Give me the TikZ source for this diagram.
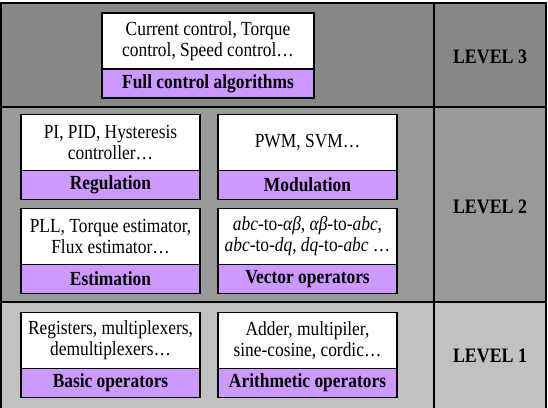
\documentclass[tikz,border=0pt]{standalone}
\usepackage{fontspec}
\setmainfont[FakeStretch=0.87]{Liberation Serif}
\usetikzlibrary{shapes,positioning}
\definecolor{lvthree}{HTML}{878787}
\definecolor{lvtwo}{HTML}{999999}
\definecolor{lvone}{HTML}{C1C1C1}
\definecolor{lilac}{HTML}{CC99FF}
\tikzstyle{w} = [rectangle, minimum width=179pt, minimum height=56pt, text centered, align=center, draw=black, fill=white, line width=1.4pt, outer sep=0pt, inner sep=0pt, font=\fontsize{20}{21}\selectfont]
\tikzstyle{p} = [rectangle, minimum width=179pt, minimum height=29pt, text centered, draw=black, fill=lilac, line width=1.4pt, outer sep=0pt, inner sep=0pt, font=\fontsize{20}{21}\selectfont\bfseries]
\tikzstyle{lv} = [font=\fontsize{20.5}{21}\selectfont\bfseries]

\begin{document}
\begin{tikzpicture}[x=1pt,y=-1pt]
		\useasboundingbox (0,0) rectangle (548,407);
		\fill[lvthree] (0,3) rectangle (434,107);
		\fill[lvthree] (434,3) rectangle (546,107);
		\fill[lvtwo] (0,107) rectangle (546,302);
		\fill[lvone] (0,302) rectangle (546,410);
		\draw[line width=1.6pt] (0.8,3) rectangle (546,412);
		\draw[line width=1.6pt] (0,107) -- (546,107);
		\draw[line width=1.6pt] (0,302) -- (546,302);
		\draw[line width=1.6pt] (434,3) -- (434,412);
		
		\node[w,minimum width=212pt] at (208,41)(full){Current control, Torque\\control, Speed control…};
		\node[p,minimum width=212pt,below=0pt of full](fullL){Full control algorithms};
		
		\node[w] at (110.5,142.5)(reg){PI, PID, Hysteresis\\controller…};
		\node[p,below=0pt of reg](regL){Regulation};
		\node[w,right=18pt of reg](mod){PWM, SVM…};
		\node[p,below=0pt of mod](modL){Modulation};
		
		\node[w,below=9pt of regL](est){PLL, Torque estimator,\\Flux estimator…};
		\node[p,below=0pt of est](estL){Estimation};
		\node[w,right=18pt of est](vec){\textit{abc}-to-\textit{αβ}, \textit{αβ}-to-\textit{abc},\\\textit{abc}-to-\textit{dq}, \textit{dq}-to-\textit{abc} …};
		\node[p,below=0pt of vec](vecL){Vector operators};
		
		\node[w,below=19pt of estL](bas){Registers, multiplexers,\\demultiplexers…};
		\node[p,below=0pt of bas](basL){Basic operators};
		\node[w,right=18pt of bas](ari){Adder, multipiler,\\sine-cosine, cordic…};
		\node[p,below=0pt of ari](ariL){Arithmetic operators};
		
		\node[lv] at (490,57)(l3){LEVEL 3};
		\node[lv] at (490,207)(l2){LEVEL 2};
		\node[lv] at (490,356)(l1){LEVEL 1};
		\end{tikzpicture}
\end{document}
